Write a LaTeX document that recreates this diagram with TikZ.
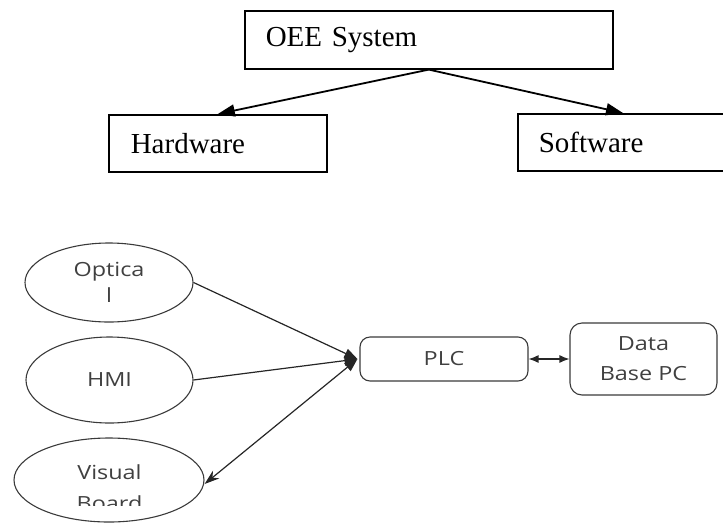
\documentclass[tikz,border=0pt]{standalone}
\usepackage{fontspec}
\setmainfont{Liberation Serif}
\newfontfamily\lowfont[FakeStretch=1.2]{Open Sans}
\usetikzlibrary{arrows.meta,shapes.geometric}
\definecolor{lowgray}{HTML}{404040}
\definecolor{linegray}{HTML}{3A3A3A}
\tikzset{
  topbox/.style={draw=black, line width=1.6pt, inner ysep=0pt, minimum height=57pt,
    anchor=north west, font=\fontsize{29}{34}\selectfont, align=left},
  toparrow/.style={line width=1.8pt, -{Triangle[length=17pt,width=12pt]}},
  lowfnt/.style={font=\lowfont\fontsize{19.5}{26}\selectfont, text=lowgray, align=center},
  ell/.style={ellipse, draw=linegray, line width=1.1pt, inner sep=0pt, lowfnt},
  rbox/.style={draw=linegray, line width=1.1pt, rounded corners=10pt, inner sep=0pt, lowfnt},
  lowline/.style={line width=1.2pt, draw=black!85},
  intip/.style={-{Triangle[length=13pt,width=10pt]}},
}
\begin{document}
\begin{tikzpicture}[x=1pt,y=-1pt]
\useasboundingbox (0,0) rectangle (723,523);
\clip (0,0) rectangle (723,523);
% top part
\node[topbox, inner xsep=21pt, text width=326pt, minimum height=58pt] (oee) at (244,10) {OEE System};
\node[topbox, inner xsep=22pt, text width=174pt] (hw) at (108,114) {Hardware};
\node[topbox, inner xsep=21pt, text width=218pt] (sw) at (517,113) {Software};
\draw[toparrow] (oee.south) -- (hw.north);
\draw[toparrow] (oee.south) -- ([xshift=106pt]sw.north west);
% lower part
\node[ell, minimum width=168pt, minimum height=79pt] (opt) at (109,282.5) {Optica\\l};
\node[ell, minimum width=167pt, minimum height=86pt] (hmi) at (109.5,380) {HMI};
\node[ell, minimum width=190pt, minimum height=84pt] (vb) at (109,480) {};
\begin{scope}
  \clip (0,0) rectangle (723,505);
  \node[lowfnt, font=\lowfont\fontsize{19.5}{31}\selectfont, inner sep=0pt, anchor=base] (vbt) at (109.5,510) {Visual\\Board};
\end{scope}
\node[rbox, minimum width=168pt, minimum height=44pt] (plc) at (444,359) {PLC};
\node[rbox, rounded corners=12pt, minimum width=147pt, minimum height=72pt,
      font=\lowfont\fontsize{19.5}{30}\selectfont] (db) at (643.5,359) {Data\\Base PC};
\coordinate (hub) at ([xshift=-2pt]plc.west);
\draw[lowline, intip] (opt.east) -- (hub);
\draw[lowline, intip] (hmi.east) -- (hub);
\draw[lowline, {Triangle[length=13pt,width=10pt]}-{Stealth[length=15pt,width=10pt]}] (hub) -- ([yshift=-4pt]vb.east);
\draw[lowline, {Latex[length=10pt,width=8pt]}-{Latex[length=10pt,width=8pt]}] (plc.east) -- (db.west);
\end{tikzpicture}
\end{document}
